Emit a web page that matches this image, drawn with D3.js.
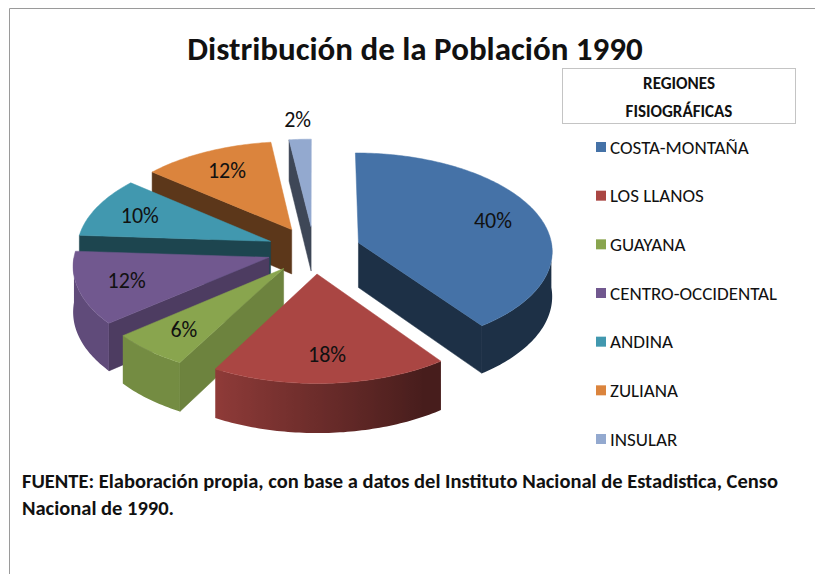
<!DOCTYPE html>
<html>
<head>
<meta charset="utf-8">
<script src="https://cdn.jsdelivr.net/npm/d3@7"></script>
<style>
  body { margin: 0; background: #fff; }
  svg { display: block; }
  text { font-family: Carlito, "Open Sans", "Noto Sans", sans-serif; fill: #111; }
</style>
</head>
<body>
<svg></svg>
<script>
const regions = ["COSTA-MONTAÑA", "LOS LLANOS", "GUAYANA", "CENTRO-OCCIDENTAL", "ANDINA", "ZULIANA", "INSULAR"];
const shares = [40, 18, 6, 12, 10, 12, 2];
const colors = ["#4572A7", "#AA4643", "#89A54E", "#71588F", "#4198AF", "#DB843D", "#93A9CF"];

const title = "Distribución de la Población 1990";
const legendTitle = ["REGIONES", "FISIOGRÁFICAS"];
const source = [
  "FUENTE: Elaboración propia, con base a datos del Instituto Nacional de Estadistica, Censo",
  "Nacional de 1990."
];

let width = 815;
let height = 574;

let svg = d3.select("svg").attr("width", width).attr("height", height);
let defs = svg.append("defs");

// frame of the original picture (top and left only)
svg.append("path")
  .attr("d", `M9.5,${height} V8.5 H${width}`)
  .style("fill", "none")
  .style("stroke", "#9a9a9a");

// 3d pie settings
const cx = 314, cy = 295;
const R = 194;        // radius
const tilt = 0.52;    // vertical squash
const thick = 45;     // slice height
const explode = 47;
const D = 2600;       // perspective distance

function proj(u, v, z) {
  let k = D / (D - v);
  return [cx + u * k, cy + (v * tilt - z) * k];
}

function shade(c, f) {
  let r = d3.rgb(c);
  return d3.rgb(r.r * f, r.g * f, r.b * f).formatHex();
}

const deg = (a) => (a * 180) / Math.PI;
const clamp = (x, a, b) => Math.max(a, Math.min(b, x));

let pie = d3.pie().sort(null).value((d) => d);
let slices = pie(shares).map((d, i) => {
  let m = (d.startAngle + d.endAngle) / 2;
  return {
    ...d,
    name: regions[i],
    color: colors[i],
    mid: m,
    ou: explode * Math.sin(m),
    ov: -explode * Math.cos(m),
  };
});

function rim(d, a, z) {
  return proj(d.ou + R * Math.sin(a), d.ov - R * Math.cos(a), z);
}
function apex(d, z) {
  return proj(d.ou, d.ov, z);
}

let poly = (pts) => d3.line()(pts) + "Z";

// shading: outer wall by angle, radial walls by facing direction
let outerShade = (a) => 0.42 + 0.43 * clamp((deg(a) - 150) / 60, 0, 1);
let sideShade = (n) => clamp(0.8 - (n - 118) * 0.0053, 0.42, 0.85);

// back slices first
let order = slices.slice().sort((a, b) => a.ov - b.ov);

let pieG = svg.append("g");

for (let d of order) {
  let g = pieG.append("g").attr("class", "slice");
  let a0 = d.startAngle, a1 = d.endAngle;

  // start wall
  if (Math.sin(a0) < -1e-6) {
    let c = shade(d.color, sideShade(deg(a0) - 90));
    g.append("path")
      .attr("d", poly([apex(d, 0), apex(d, thick), rim(d, a0, thick), rim(d, a0, 0)]))
      .style("fill", c)
      .style("stroke", c)
      .style("stroke-width", 0.5);
  }
  // end wall
  if (Math.sin(a1) > 1e-6) {
    let c = shade(d.color, sideShade(deg(a1) + 90));
    g.append("path")
      .attr("d", poly([apex(d, 0), apex(d, thick), rim(d, a1, thick), rim(d, a1, 0)]))
      .style("fill", c)
      .style("stroke", c)
      .style("stroke-width", 0.5);
  }
  // outer curved wall, front part only
  let w0 = Math.max(a0, Math.PI / 2), w1 = Math.min(a1, Math.PI * 1.5);
  if (w1 > w0) {
    let n = Math.max(2, Math.ceil(deg(w1 - w0)));
    let steps = d3.range(n + 1).map((j) => w0 + ((w1 - w0) * j) / n);
    let topPts = steps.map((a) => rim(d, a, thick));
    let botPts = steps.map((a) => rim(d, a, 0)).reverse();
    let xs = topPts.map((p) => p[0]);
    let x0 = d3.min(xs), x1 = d3.max(xs);
    let grad = defs.append("linearGradient")
      .attr("id", `wall-${d.index}`)
      .attr("gradientUnits", "userSpaceOnUse")
      .attr("x1", x0).attr("x2", x1)
      .attr("y1", 0).attr("y2", 0);
    let stops = steps
      .map((a, j) => ({ off: (xs[j] - x0) / (x1 - x0), col: shade(d.color, outerShade(a)) }))
      .sort((p, q) => p.off - q.off);
    grad.selectAll("stop")
      .data(stops)
      .join("stop")
      .attr("offset", (s) => s.off)
      .attr("stop-color", (s) => s.col);
    g.append("path")
      .attr("d", poly(topPts.concat(botPts)))
      .style("fill", `url(#wall-${d.index})`);
  }
  // top face
  let n = Math.max(2, Math.ceil(deg(a1 - a0)));
  let top = [apex(d, thick)].concat(
    d3.range(n + 1).map((j) => rim(d, a0 + ((a1 - a0) * j) / n, thick))
  );
  g.append("path")
    .attr("d", poly(top))
    .style("fill", d.color)
    .style("stroke", d.color)
    .style("stroke-width", 0.5);
}

// percent labels
let total = d3.sum(shares);
let labelPos = (d) => {
  let r = d.value / total < 0.04 ? R * 1.25 : R * 0.75;
  return proj(d.ou + r * Math.sin(d.mid), d.ov - r * Math.cos(d.mid), thick);
};
svg.append("g")
  .selectAll("text")
  .data(slices)
  .join("text")
  .attr("text-anchor", "middle")
  .attr("dominant-baseline", "central")
  .style("font-size", "22px")
  .attr("x", (d) => labelPos(d)[0])
  .attr("y", (d) => labelPos(d)[1])
  .text((d) => `${Math.round((d.value / total) * 100)}%`);

// title
svg.append("text")
  .attr("x", 415)
  .attr("y", 60)
  .attr("text-anchor", "middle")
  .style("font-size", "33px")
  .style("font-weight", "bold")
  .text(title);

// legend
svg.append("rect")
  .attr("x", 562.5)
  .attr("y", 68.5)
  .attr("width", 233)
  .attr("height", 55)
  .style("fill", "#fff")
  .style("stroke", "#c4c4c4");

svg.append("g")
  .selectAll("text")
  .data(legendTitle)
  .join("text")
  .attr("x", 679)
  .attr("y", (d, i) => 89 + i * 28)
  .attr("text-anchor", "middle")
  .style("font-size", "17px")
  .style("font-weight", "bold")
  .text((d) => d);

let ly = d3.scalePoint().domain(regions).range([147, 439]);

let items = svg.append("g")
  .selectAll("g")
  .data(slices)
  .join("g")
  .attr("transform", (d) => `translate(596,${ly(d.name)})`);

items.append("rect")
  .attr("x", 0)
  .attr("y", -5)
  .attr("width", 10)
  .attr("height", 10)
  .style("fill", (d) => d.color);

items.append("text")
  .attr("x", 14)
  .attr("dominant-baseline", "central")
  .style("font-size", "19px")
  .text((d) => d.name);

// source note
svg.append("g")
  .selectAll("text")
  .data(source)
  .join("text")
  .attr("x", 22)
  .attr("y", (d, i) => 488 + i * 27)
  .style("font-size", "20.5px")
  .style("font-weight", "bold")
  .text((d) => d);
</script>
</body>
</html>
